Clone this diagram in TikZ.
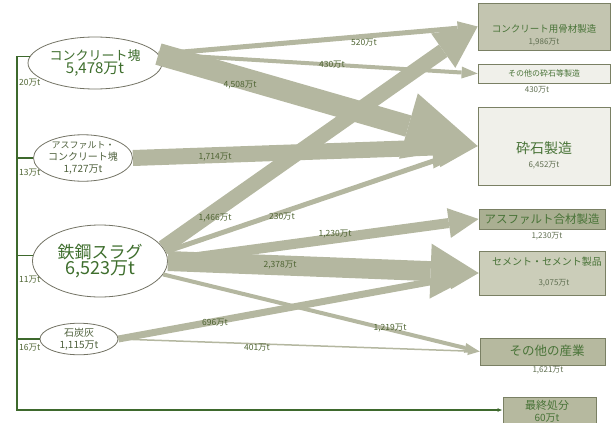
\documentclass[tikz,border=0pt]{standalone}
\usepackage{fontspec}
\setmainfont{Noto Sans CJK JP}
\usetikzlibrary{shapes.geometric, arrows.meta}

\definecolor{flowgray}{RGB}{180,183,160}
\definecolor{srcline}{RGB}{115,115,100}
\definecolor{srctext}{RGB}{62,110,45}
\definecolor{srcdark}{RGB}{80,98,62}
\definecolor{boxline}{RGB}{122,128,100}
\definecolor{boxtext}{RGB}{72,115,55}
\definecolor{numtext}{RGB}{95,110,80}
\definecolor{lbltext}{RGB}{78,100,50}
\definecolor{trunkgreen}{RGB}{62,105,45}
\definecolor{filldark}{RGB}{195,197,176}
\definecolor{filllight}{RGB}{240,240,234}
\definecolor{fillmix}{RGB}{170,175,146}
\definecolor{fillcem}{RGB}{203,205,185}
\definecolor{filloth}{RGB}{182,185,159}

\begin{document}
\begin{tikzpicture}[x=1pt, y=-1pt,
    src/.style={ellipse, draw=srcline, line width=0.8pt, fill=white, inner sep=0pt, align=center},
    box/.style={draw=boxline, line width=0.8pt, inner sep=0pt},
    flow/.style n args={3}{draw=flowgray, line width=#1,
        -{Triangle[width=#2, length=#3, line width=0pt]}},
    flowlbl/.style={font=\fontsize{8.5}{9}\selectfont, text=lbltext, inner sep=0pt},
    boxlbl/.style={text=boxtext, inner sep=0pt},
    numlbl/.style={font=\fontsize{8}{9}\selectfont, text=numtext, inner sep=0pt},
    trunk/.style={draw=trunkgreen, line width=1.2pt}
]
\useasboundingbox (0,0) rectangle (616,423);

% Sources
\node[src, minimum width=134pt, minimum height=52pt, text=srctext] (conc) at (95,63)
    {\fontsize{13}{18}\selectfont コンクリート塊\\{\fontsize{15}{18}\selectfont 5,478万t}};
\node[src, minimum width=96pt, minimum height=45pt, text=srcdark] (asph) at (83,158)
    {\fontsize{9}{13.5}\selectfont アスファルト・\\コンクリート塊\\1,727万t};
\node[src, minimum width=135pt, minimum height=72pt, text=srctext] (slag) at (100,261)
    {\fontsize{17}{21}\selectfont 鉄鋼スラグ\\{\fontsize{18}{21}\selectfont 6,523万t}};
\node[src, minimum width=78pt, minimum height=30pt, text=srcdark] (ash) at (79,339)
    {\fontsize{10}{14}\selectfont 石炭灰\\1,115万t};

% Destination boxes
\node[box, fill=filldark,  minimum width=132pt, minimum height=47pt] (agg)   at (544,26.5) {};
\node[box, fill=filllight, minimum width=132pt, minimum height=19pt] (othc)  at (544,73.5) {};
\node[box, fill=filllight, minimum width=132pt, minimum height=78pt] (crush) at (544,146) {};
\node[box, fill=fillmix,   minimum width=126pt, minimum height=20pt] (asm)   at (542,219) {};
\node[box, fill=fillcem,   minimum width=126pt, minimum height=44pt] (cem)   at (542,273) {};
\node[box, fill=filloth,   minimum width=125pt, minimum height=27pt] (oth)   at (542.5,351.5) {};
\node[box, fill=filloth,   minimum width=93pt,  minimum height=26pt] (fin)   at (549.5,410) {};

% Box titles and amounts
\node[boxlbl, font=\fontsize{9.5}{10}\selectfont] (aggT)   at (544,29)  {コンクリート用骨材製造};
\node[numlbl] (aggN) at (544,42) {1,986万t};
\node[boxlbl, font=\fontsize{8}{9}\selectfont]    (othcT)  at (544,73.5) {その他の砕石等製造};
\node[numlbl] (othcN) at (537,90) {430万t};
\node[boxlbl, font=\fontsize{14}{15}\selectfont]  (crushT) at (544,148) {砕石製造};
\node[numlbl] (crushN) at (544,165) {6,452万t};
\node[boxlbl, font=\fontsize{11.5}{12}\selectfont] (asmT)  at (542,219) {アスファルト合材製造};
\node[numlbl] (asmN) at (547,236) {1,230万t};
\node[boxlbl, font=\fontsize{10}{11}\selectfont]  (cemT)   at (547,262) {セメント・セメント製品};
\node[numlbl] (cemN) at (554,283) {3,075万t};
\node[boxlbl, font=\fontsize{12.5}{13}\selectfont] (othT)  at (547,351) {その他の産業};
\node[numlbl] (othN) at (548,370) {1,621万t};
\node[boxlbl, font=\fontsize{11}{12}\selectfont]  (finT)   at (547,405) {最終処分};
\node[boxlbl, font=\fontsize{10}{11}\selectfont]  (finN)   at (547,418) {60万t};

% Flows
\draw[flow={5}{14}{20}]  (conc.8) -- (agg.west);
\draw[flow={4}{12}{16}]  (conc.8) -- (othc.west);
\draw[flow={22}{68}{72}] (conc.8) -- (crush.west);
\draw[flow={16}{42}{45}] (asph.east) -- (crush.west);
\draw[flow={15}{42}{42}] (slag.12) -- (agg.west);
\draw[flow={5}{16}{42}]  (slag.8) -- (crush.west);
\draw[flow={10}{30}{30}] (slag.east) -- (asm.west);
\draw[flow={20}{55}{48}] (slag.east) -- (cem.west);
\draw[flow={4}{10}{15}]  (slag.-12) -- (oth.west);
\draw[flow={7}{22}{30}]  (ash.east)  -- (cem.west);
\draw[flow={1.5}{8}{12}] (ash.east)  -- (oth.west);

% Flow amounts
\foreach \x/\y/\t [count=\i] in {364/43/520万t, 332/65/430万t, 240/85/{4,508万t},
    215/157/{1,714万t}, 215/218/{1,466万t}, 282/217/230万t, 335/234/{1,230万t},
    280/265/{2,378万t}, 215/323/696万t, 390/328/{1,219万t}, 257/348/401万t}
    \node[flowlbl] (fl\i) at (\x,\y) {\t};

% Direct disposal
\coordinate (bend) at (17,410);
\draw[trunk, -{Latex[length=5pt, width=4pt]}] (conc.174) -| (bend) -- (fin.west);
\foreach \s/\a in {asph/180, slag/175, ash/180}
    \draw[trunk] (\s.\a) -- (\s.\a -| bend);

\foreach \y/\t [count=\i] in {83/20万t, 173/13万t, 280/11万t, 348/16万t}
    \node[flowlbl, anchor=west] (dl\i) at (19,\y) {\t};

\end{tikzpicture}
\end{document}
